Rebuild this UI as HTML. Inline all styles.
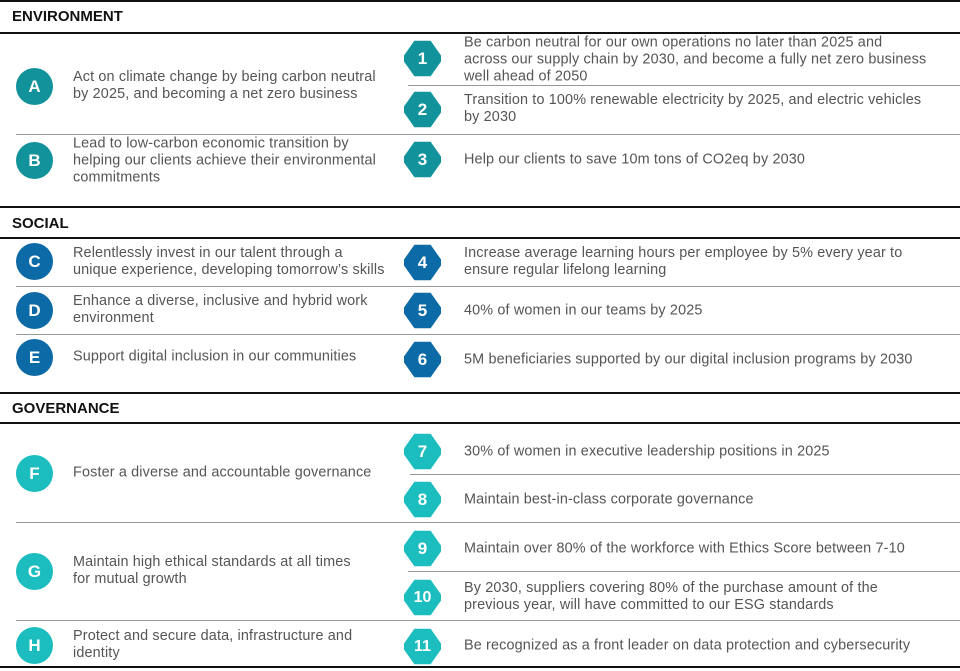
<!DOCTYPE html>
<html><head><meta charset="utf-8"><style>
*{margin:0;padding:0;box-sizing:border-box}
body{width:960px;height:671px;background:#fff;position:relative;overflow:hidden;font-family:"Liberation Sans",sans-serif;color:#555}
.bl{position:absolute;left:0;width:960px;height:2px;background:#111}
.gl{position:absolute;height:1px;background:#999;right:0}
.h{position:absolute;left:12px;font-weight:bold;font-size:15px;color:#111}
.c{position:absolute;left:16px;width:37px;height:37px;border-radius:50%;color:#fff;font-weight:bold;font-size:17px;display:flex;align-items:center;justify-content:center}
.x{position:absolute;left:404px;width:37px;height:37px;color:#fff;font-weight:bold;font-size:17px;display:flex;align-items:center;justify-content:center;clip-path:polygon(28% 2%,72% 2%,100% 42%,100% 58%,72% 98%,28% 98%,0 58%,0 42%)}
.t{position:absolute;font-size:14.4px;letter-spacing:0.15px;line-height:17px;transform:translateY(-50%);white-space:nowrap}
.l{left:73px}
.r{left:464px}
.e{background:#12939b}.s{background:#0c6aa6}.g{background:#1cbdbf}
</style></head><body>
<div class="bl" style="top:0"></div>
<div class="h" style="top:8px">ENVIRONMENT</div>
<div class="bl" style="top:32px"></div>
<div class="gl" style="top:85px;left:408px"></div>
<div class="gl" style="top:134px;left:16px"></div>
<div class="bl" style="top:206px"></div>
<div class="h" style="top:215px">SOCIAL</div>
<div class="bl" style="top:237px"></div>
<div class="gl" style="top:286px;left:16px"></div>
<div class="gl" style="top:334px;left:16px"></div>
<div class="bl" style="top:392px"></div>
<div class="h" style="top:400px">GOVERNANCE</div>
<div class="bl" style="top:422px"></div>
<div class="gl" style="top:474px;left:410px"></div>
<div class="gl" style="top:522px;left:16px"></div>
<div class="gl" style="top:571px;left:408px"></div>
<div class="gl" style="top:620px;left:16px"></div>
<div class="bl" style="top:666px"></div>

<div class="c e" style="top:68px">A</div>
<div class="c e" style="top:142px">B</div>
<div class="c s" style="top:243px">C</div>
<div class="c s" style="top:292px">D</div>
<div class="c s" style="top:339px">E</div>
<div class="c g" style="top:455px">F</div>
<div class="c g" style="top:553px">G</div>
<div class="c g" style="top:627px">H</div>

<div class="t l" style="top:86px">Act on climate change by being carbon neutral<br>by 2025, and becoming a net zero business</div>
<div class="t l" style="top:161px">Lead to low-carbon economic transition by<br>helping our clients achieve their environmental<br>commitments</div>
<div class="t l" style="top:262px">Relentlessly invest in our talent through a<br>unique experience, developing tomorrow’s skills</div>
<div class="t l" style="top:310px">Enhance a diverse, inclusive and hybrid work<br>environment</div>
<div class="t l" style="top:357px">Support digital inclusion in our communities</div>
<div class="t l" style="top:473px">Foster a diverse and accountable governance</div>
<div class="t l" style="top:571px">Maintain high ethical standards at all times<br>for mutual growth</div>
<div class="t l" style="top:645px">Protect and secure data, infrastructure and<br>identity</div>

<div class="x e" style="top:40px">1</div>
<div class="x e" style="top:91px">2</div>
<div class="x e" style="top:141px">3</div>
<div class="x s" style="top:244px">4</div>
<div class="x s" style="top:292px">5</div>
<div class="x s" style="top:341px">6</div>
<div class="x g" style="top:433px">7</div>
<div class="x g" style="top:481px">8</div>
<div class="x g" style="top:530px">9</div>
<div class="x g" style="top:579px;font-size:16px">10</div>
<div class="x g" style="top:628px;font-size:16px">11</div>

<div class="t r" style="top:60px">Be carbon neutral for our own operations no later than 2025 and<br>across our supply chain by 2030, and become a fully net zero business<br>well ahead of 2050</div>
<div class="t r" style="top:109px">Transition to 100% renewable electricity by 2025, and electric vehicles<br>by 2030</div>
<div class="t r" style="top:160px">Help our clients to save 10m tons of CO2eq by 2030</div>
<div class="t r" style="top:262px">Increase average learning hours per employee by 5% every year to<br>ensure regular lifelong learning</div>
<div class="t r" style="top:311px">40% of women in our teams by 2025</div>
<div class="t r" style="top:360px">5M beneficiaries supported by our digital inclusion programs by 2030</div>
<div class="t r" style="top:452px">30% of women in executive leadership positions in 2025</div>
<div class="t r" style="top:500px">Maintain best-in-class corporate governance</div>
<div class="t r" style="top:549px">Maintain over 80% of the workforce with Ethics Score between 7-10</div>
<div class="t r" style="top:597px">By 2030, suppliers covering 80% of the purchase amount of the<br>previous year, will have committed to our ESG standards</div>
<div class="t r" style="top:646px">Be recognized as a front leader on data protection and cybersecurity</div>
</body></html>
